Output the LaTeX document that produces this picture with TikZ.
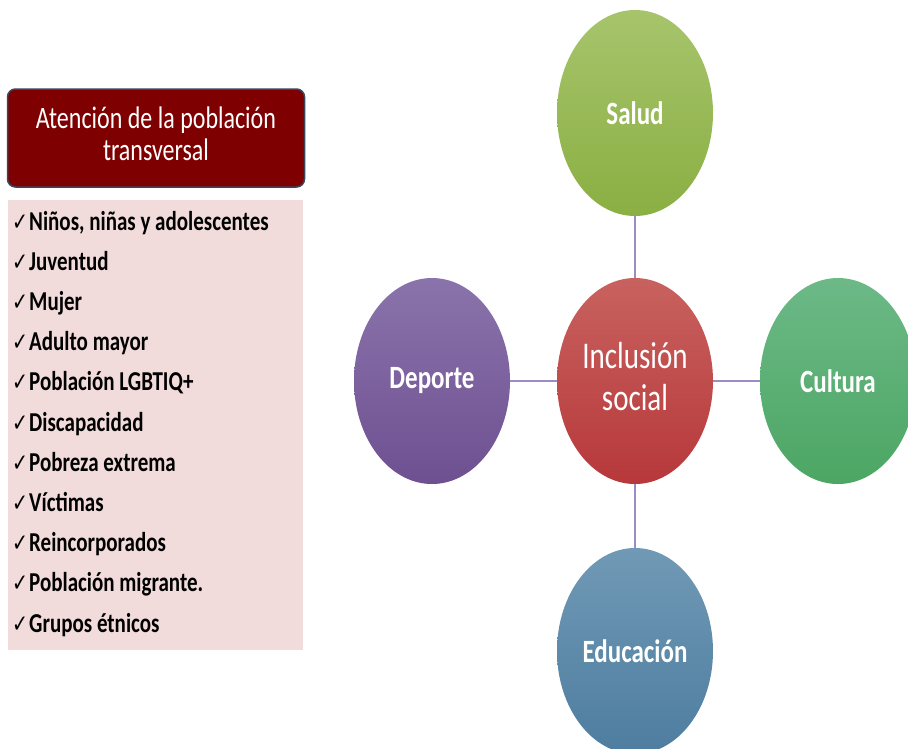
\documentclass[tikz,border=0pt]{standalone}
\usepackage{fontspec}
\usepackage{graphicx}
\setmainfont{Carlito}
\newfontfamily\symfont{DejaVu Sans}
\usetikzlibrary{shapes.geometric}
\definecolor{DarkRed}{HTML}{7F0000}
\definecolor{Slate}{HTML}{3A4660}
\definecolor{PalePink}{HTML}{F2DCDB}
\definecolor{Lilac}{HTML}{9D8BC6}
\definecolor{GreenTop}{HTML}{A7C46C}
\definecolor{GreenBot}{HTML}{8AAF42}
\definecolor{RedTop}{HTML}{C8625F}
\definecolor{RedBot}{HTML}{B7383A}
\definecolor{PurpleTop}{HTML}{8A73AB}
\definecolor{PurpleBot}{HTML}{6E5091}
\definecolor{TealTop}{HTML}{6CB987}
\definecolor{TealBot}{HTML}{4CA663}
\definecolor{BlueTop}{HTML}{7099B5}
\definecolor{BlueBot}{HTML}{4E7DA0}
\newcommand{\tallt}[1]{\scalebox{1}[1.3]{#1}}
\tikzset{
  header/.style={draw=Slate,fill=DarkRed,line width=1.5pt,rounded corners=8pt,minimum width=297pt,minimum height=98pt,text=white,font=\fontsize{24}{25}\selectfont},
  listbox/.style={fill=PalePink,minimum width=295pt,minimum height=450pt,inner sep=0pt},
  entry/.style={anchor=base west,inner sep=0pt,font=\fontsize{21}{24}\selectfont\bfseries},
  tick/.style={anchor=base west,inner sep=0pt,font=\symfont\bfseries\fontsize{19}{22}\selectfont},
  bubble/.style={ellipse,minimum width=156pt,minimum height=206pt,inner sep=0pt,text=white,font=\fontsize{25}{30}\selectfont\bfseries},
  link/.style={draw=Lilac,line width=2pt},
}
\begin{document}
\begin{tikzpicture}[x=1pt,y=-1pt]
  \useasboundingbox (0,0) rectangle (908,748);
  \clip (0,0) rectangle (908,748);
  % left column
  \node[header] (head) at (156,138) {\tallt{\begin{tabular}{@{}c@{}}Atención de la población\\transversal\end{tabular}}};
  \node[listbox] (list) at (155.5,425) {};
  \foreach \txt [count=\i from 0] in {{Niños, niñas y adolescentes},Juventud,Mujer,Adulto mayor,Población LGBTIQ+,Discapacidad,Pobreza extrema,Víctimas,Reincorporados,Población migrante.,Grupos étnicos}{
    \node[tick] (tick\i) at (12,230+40.2*\i) {\tallt{✓}};
    \node[entry] (item\i) at (29,230+40.2*\i) {\tallt{\txt}};
  }
  % bubbles
  \node[bubble,top color=RedTop,bottom color=RedBot,font=\fontsize{29}{32}\selectfont] (incl) at (635,381) {\tallt{\begin{tabular}{@{}c@{}}Inclusión\\social\end{tabular}}};
  \node[bubble,top color=GreenTop,bottom color=GreenBot] (salud) at (635,113) {\tallt{Salud}};
  \node[bubble,top color=PurpleTop,bottom color=PurpleBot] (deporte) at (432,381) {\tallt{Deporte}};
  \node[bubble,top color=TealTop,bottom color=TealBot] (cultura) at (838,381) {\tallt{Cultura}};
  \node[bubble,top color=BlueTop,bottom color=BlueBot] (edu) at (635,651) {\tallt{Educación}};
  \draw[link] (salud) -- (incl);
  \draw[link] (deporte) -- (incl);
  \draw[link] (incl) -- (cultura);
  \draw[link] (incl) -- (edu);
\end{tikzpicture}
\end{document}
